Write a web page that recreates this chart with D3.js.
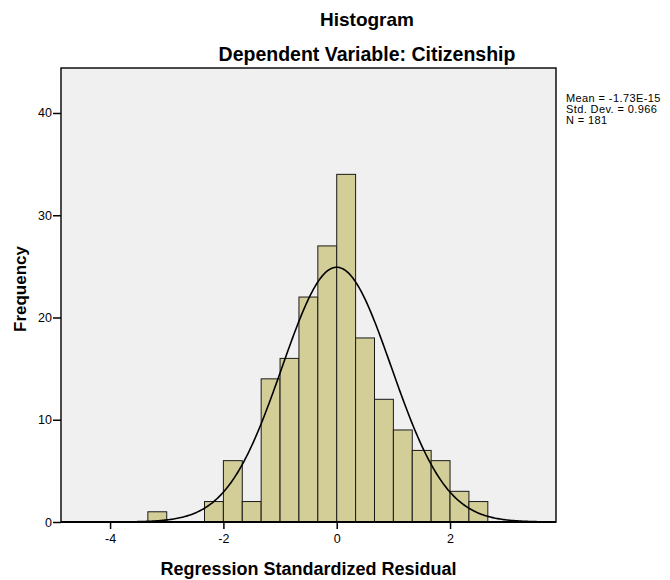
<!DOCTYPE html>
<html>
<head>
<meta charset="utf-8">
<script src="https://cdn.jsdelivr.net/npm/d3@7"></script>
<style>
  html, body { margin: 0; padding: 0; background: #ffffff; }
  svg { display: block; }
  text { font-family: "Liberation Sans", Arial, Helvetica, sans-serif; fill: #000; }
</style>
</head>
<body>
<svg id="chart" width="670" height="580"></svg>
<script>
// ---- Data ----
const binLower = [-10/3, -3, -8/3, -7/3, -2, -5/3, -4/3, -1, -2/3, -1/3, 0, 1/3, 2/3, 1, 4/3, 5/3, 2, 7/3];
const binUpper = [-3, -8/3, -7/3, -2, -5/3, -4/3, -1, -2/3, -1/3, 0, 1/3, 2/3, 1, 4/3, 5/3, 2, 7/3, 8/3];
const counts   = [1, 0, 0, 2, 6, 2, 14, 16, 22, 27, 34, 18, 12, 9, 7, 6, 3, 2];
const xTicks = [-4, -2, 0, 2];
const yTicks = [0, 10, 20, 30, 40];
const statLabels = ["Mean = -1.73E-15", "Std. Dev. = 0.966", "N = 181"];
const statMean = -1.73e-15;
const statSD = 0.966;
const statN = 181;
const titleText = "Histogram";
const subtitleText = "Dependent Variable: Citizenship";
const xLabelText = "Regression Standardized Residual";
const yLabelText = "Frequency";

// ---- Layout ----
const svg = d3.select("#chart");
const plot = { left: 61, right: 556, top: 68, bottom: 522 };

const x = d3.scaleLinear().domain([-4.866, 3.87]).range([plot.left, plot.right]);
const y = d3.scaleLinear().domain([0, 44.4]).range([plot.bottom, plot.top]);

// background
svg.append("rect")
  .attr("x", plot.left).attr("y", plot.top)
  .attr("width", plot.right - plot.left).attr("height", plot.bottom - plot.top)
  .attr("fill", "#f0f0f0");

// bars
const bins = counts.map((c, i) => ({ x0: binLower[i], x1: binUpper[i], c }))
  .filter(d => d.c > 0);
svg.append("g").selectAll("rect").data(bins).join("rect")
  .attr("x", d => x(d.x0))
  .attr("y", d => y(d.c))
  .attr("width", d => x(d.x1) - x(d.x0))
  .attr("height", d => y(0) - y(d.c))
  .attr("fill", "#d3ce97")
  .attr("stroke", "#1a1a1a")
  .attr("stroke-width", 1);

// normal curve from the stated statistics
const binW = binUpper[0] - binLower[0];
const pdf = v => statN * binW / (statSD * Math.sqrt(2 * Math.PI)) *
  Math.exp(-0.5 * Math.pow((v - statMean) / statSD, 2));
const xs = d3.range(0, 401).map(i => x.domain()[0] + (x.domain()[1] - x.domain()[0]) * i / 400);
svg.append("path")
  .datum(xs)
  .attr("fill", "none")
  .attr("stroke", "#000")
  .attr("stroke-width", 1.6)
  .attr("d", d3.line().x(v => x(v)).y(v => y(pdf(v))));

// frame
svg.append("rect")
  .attr("x", plot.left).attr("y", plot.top)
  .attr("width", plot.right - plot.left).attr("height", plot.bottom - plot.top)
  .attr("fill", "none").attr("stroke", "#000").attr("stroke-width", 1.4);
svg.append("line")
  .attr("x1", plot.left).attr("x2", plot.right)
  .attr("y1", plot.bottom).attr("y2", plot.bottom)
  .attr("stroke", "#000").attr("stroke-width", 2);

// axes
const xAxis = d3.axisBottom(x).tickValues(xTicks).tickSize(7).tickPadding(5)
  .tickFormat(d => d < 0 ? "-" + Math.abs(d) : String(d));
const gx = svg.append("g").attr("transform", `translate(0,${plot.bottom})`).call(xAxis);
gx.select(".domain").remove();
gx.selectAll(".tick line").attr("stroke", "#000").attr("stroke-width", 1.5);
gx.selectAll(".tick text").attr("font-size", 12.5).attr("font-family", "Liberation Sans, Arial, sans-serif");

const yAxis = d3.axisLeft(y).tickValues(yTicks).tickSize(8).tickPadding(1);
const gy = svg.append("g").attr("transform", `translate(${plot.left},0)`).call(yAxis);
gy.select(".domain").remove();
gy.selectAll(".tick line").attr("stroke", "#000").attr("stroke-width", 1.5);
gy.selectAll(".tick text").attr("font-size", 12.5).attr("font-family", "Liberation Sans, Arial, sans-serif");

// titles
svg.append("text").attr("x", 367).attr("y", 26).attr("text-anchor", "middle")
  .attr("font-size", 19).attr("font-weight", "bold").text(titleText);
svg.append("text").attr("x", 367).attr("y", 61).attr("text-anchor", "middle")
  .attr("font-size", 19.5).attr("font-weight", "bold").text(subtitleText);
svg.append("text").attr("x", (plot.left + plot.right) / 2).attr("y", 575).attr("text-anchor", "middle")
  .attr("font-size", 18).attr("font-weight", "bold").text(xLabelText);
svg.append("text")
  .attr("transform", `translate(26,289) rotate(-90)`)
  .attr("text-anchor", "middle")
  .attr("font-size", 17).attr("font-weight", "bold").text(yLabelText);

// stats legend
svg.append("g").selectAll("text").data(statLabels).join("text")
  .attr("x", 566)
  .attr("y", (d, i) => 102 + i * 11)
  .attr("font-size", 11)
  .attr("letter-spacing", 0.4)
  .text(d => d);
</script>
</body>
</html>
